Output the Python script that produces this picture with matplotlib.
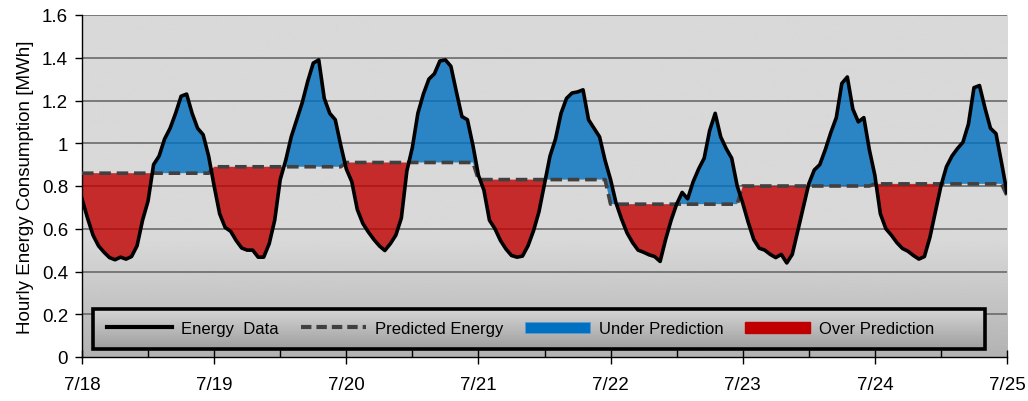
import numpy as np
import matplotlib
matplotlib.use("Agg")
import matplotlib.pyplot as plt
from matplotlib.lines import Line2D
from matplotlib.patches import Patch, Rectangle

plt.rcParams['font.family'] = ['Liberation Sans', 'DejaVu Sans']

# hourly energy readings [MWh], one list per day (hour 0..23)
jul18 = [0.74, 0.65, 0.57, 0.52, 0.49, 0.465, 0.455, 0.467, 0.458, 0.47, 0.52, 0.64,
         0.73, 0.90, 0.94, 1.02, 1.07, 1.14, 1.22, 1.23, 1.14, 1.07, 1.04, 0.94]
jul19 = [0.80, 0.67, 0.606, 0.588, 0.545, 0.51, 0.50, 0.50, 0.467, 0.467, 0.53, 0.64,
         0.83, 0.92, 1.03, 1.11, 1.19, 1.29, 1.375, 1.39, 1.21, 1.14, 1.11, 0.99]
jul20 = [0.88, 0.82, 0.69, 0.625, 0.585, 0.55, 0.52, 0.498, 0.53, 0.57, 0.65, 0.87,
         0.98, 1.14, 1.23, 1.30, 1.325, 1.385, 1.39, 1.36, 1.24, 1.125, 1.11, 0.99]
jul21 = [0.85, 0.78, 0.64, 0.60, 0.545, 0.505, 0.475, 0.467, 0.472, 0.52, 0.59, 0.68,
         0.81, 0.94, 1.02, 1.14, 1.21, 1.235, 1.24, 1.25, 1.11, 1.07, 1.03, 0.92]
jul22 = [0.83, 0.72, 0.645, 0.58, 0.535, 0.50, 0.49, 0.478, 0.47, 0.447, 0.55, 0.64,
         0.715, 0.77, 0.74, 0.82, 0.88, 0.93, 1.06, 1.14, 1.03, 0.975, 0.93, 0.80]
jul23 = [0.72, 0.63, 0.55, 0.509, 0.50, 0.48, 0.465, 0.48, 0.44, 0.48, 0.59, 0.70,
         0.81, 0.875, 0.90, 0.97, 1.05, 1.12, 1.28, 1.31, 1.16, 1.10, 1.12, 0.97]
jul24 = [0.85, 0.67, 0.60, 0.57, 0.535, 0.508, 0.495, 0.475, 0.458, 0.47, 0.56, 0.68,
         0.80, 0.89, 0.94, 0.975, 1.005, 1.09, 1.26, 1.27, 1.165, 1.07, 1.045, 0.91]
jul25_0h = [0.77]

# predicted energy, constant for each day (last = 7/25 0:00)
pred_daily = [0.86, 0.89, 0.91, 0.83, 0.715, 0.80, 0.81, 0.755]

day_labels = ["7/18", "7/19", "7/20", "7/21", "7/22", "7/23", "7/24", "7/25"]

energy = np.array(jul18 + jul19 + jul20 + jul21 + jul22 + jul23 + jul24 + jul25_0h)
pred = np.repeat(pred_daily, 24)[:len(energy)]
hours = np.arange(len(energy))

fig = plt.figure(figsize=(10.28, 4.02), dpi=100)
ax = fig.add_axes([82 / 1028, 44 / 402, 925 / 1028, 342 / 402])

# gray background, darker towards the bottom
grad = np.concatenate([np.linspace(0.70, 0.85, 90), np.full(170, 0.85)])[:, None]
ax.imshow(grad, extent=[0, 1, 0, 1], transform=ax.transAxes, aspect='auto',
          cmap='gray', vmin=0, vmax=1, origin='lower', zorder=0)

ax.set_xlim(0, 168)
ax.set_ylim(0, 1.6)
for v in np.arange(0.2, 1.61, 0.2):
    ax.axhline(v, color='#6a6a6a', lw=1.2, zorder=1)

ax.fill_between(hours, energy, pred, where=energy >= pred, interpolate=True,
                color='#0070C0', alpha=0.8, lw=0, zorder=2)
ax.fill_between(hours, energy, pred, where=energy <= pred, interpolate=True,
                color='#C00000', alpha=0.8, lw=0, zorder=2)
ax.plot(hours, pred, color='#404040', lw=2.6, ls=(0, (3.2, 1.6)), zorder=3)
ax.plot(hours, energy, color='black', lw=2.6, zorder=4, solid_joinstyle='round')

# legend box with gradient
lg = np.linspace(0.62, 0.84, 50)[:, None]
ax.imshow(lg, extent=[0.012, 0.976, 0.023, 0.14], transform=ax.transAxes,
          aspect='auto', cmap='gray', vmin=0, vmax=1, origin='lower', zorder=5)
ax.add_patch(Rectangle((0.012, 0.023), 0.964, 0.117, transform=ax.transAxes,
                       fill=False, edgecolor='black', lw=2.6, zorder=6))
handles = [Line2D([], [], color='black', lw=3),
           Line2D([], [], color='#404040', lw=3, ls=(0, (2.5, 1.2))),
           Patch(facecolor='#0070C0', edgecolor='#5b9bd5', lw=0.5),
           Patch(facecolor='#C00000', edgecolor='#C00000')]
labels = ["Energy  Data", "Predicted Energy", "Under Prediction", "Over Prediction"]
leg = ax.legend(handles, labels, loc='center left', bbox_to_anchor=(0.011, 0.083),
                bbox_transform=ax.transAxes, ncol=4, frameon=False, fontsize=12,
                handlelength=3.9, handleheight=0.65, handletextpad=0.55,
                columnspacing=1.3)
leg.set_zorder(7)

ax.set_xticks(np.arange(0, 169, 24))
ax.set_xticklabels(day_labels)
ax.set_xticks(np.arange(12, 169, 24), minor=True)
ax.set_yticks(np.arange(0, 1.61, 0.2))
ax.set_yticklabels(["0", "0.2", "0.4", "0.6", "0.8", "1", "1.2", "1.4", "1.6"])
ax.tick_params(axis='x', which='major', direction='inout', length=10, width=1,
               labelsize=13.5, pad=9)
ax.tick_params(axis='x', which='minor', direction='in', length=5, width=1)
ax.tick_params(axis='y', direction='out', length=5, width=1, labelsize=13.5, pad=5)
for s in ['top', 'right']:
    ax.spines[s].set_visible(False)
ax.spines['left'].set_linewidth(1)
ax.spines['bottom'].set_linewidth(1)
ax.set_ylabel("Hourly Energy Consumption [MWh]", fontsize=13.5, labelpad=6)

fig.savefig("out.png", dpi=100)
